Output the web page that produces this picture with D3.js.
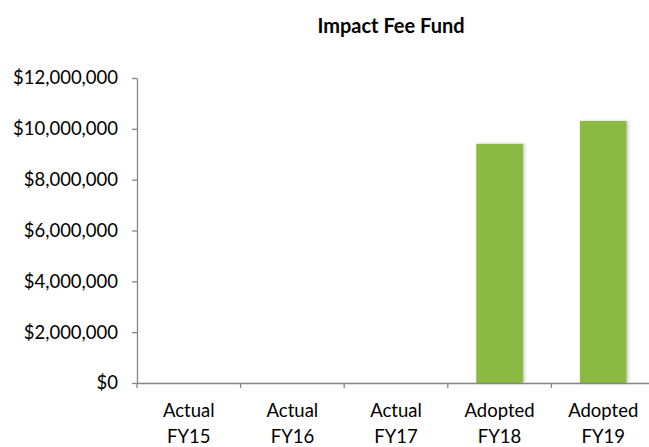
<!DOCTYPE html>
<html>
<head>
<meta charset="utf-8">
<script src="https://cdn.jsdelivr.net/npm/d3@7"></script>
<style>
body { margin: 0; background: #fff; }
svg { font-family: Lato, "Open Sans", sans-serif; }
</style>
</head>
<body>
<svg id="chart" width="649" height="447"></svg>
<script>
// data
var categories = ["Actual FY15", "Actual FY16", "Actual FY17", "Adopted FY18", "Adopted FY19"];
var values = [0, 0, 0, 9410000, 10310000];
var yTicks = [0, 2000000, 4000000, 6000000, 8000000, 10000000, 12000000];

var svg = d3.select("#chart");
var x = d3.scaleBand().domain(categories).range([137, 655]).paddingInner(0.55).paddingOuter(0.275);
var y = d3.scaleLinear().domain([0, 12000000]).range([383, 78]);

// title
svg.append("text")
  .attr("x", 391).attr("y", 33)
  .attr("text-anchor", "middle")
  .style("font-weight", "bold").style("font-size", "20px")
  .text("Impact Fee Fund");

// shadow filter for the bars
var defs = svg.append("defs");
var f = defs.append("filter").attr("id", "shadow").attr("x", "-20%").attr("y", "-5%").attr("width", "140%").attr("height", "110%");
f.append("feDropShadow").attr("dx", 1.5).attr("dy", 0).attr("stdDeviation", 1.5).attr("flood-color", "#000").attr("flood-opacity", 0.25);

var data = categories.map(function(c, i) { return {cat: c, val: values[i]}; });

svg.append("g").selectAll("rect")
  .data(data.filter(d => d.val > 0))
  .enter().append("rect")
  .attr("x", d => x(d.cat))
  .attr("width", x.bandwidth())
  .attr("y", d => y(d.val))
  .attr("height", d => y(0) - y(d.val))
  .attr("fill", "#8aba43")
  .attr("filter", "url(#shadow)");

// y axis
var fmt = d3.format("$,.0f");
var yAxis = svg.append("g").attr("transform", "translate(137,0)")
  .call(d3.axisLeft(y).tickValues(yTicks).tickFormat(fmt).tickSize(5).tickPadding(14).tickSizeOuter(0));
yAxis.selectAll("path, line").attr("stroke", "#868686").attr("stroke-width", 1.3);
yAxis.selectAll("text").style("font-size", "18.5px").attr("fill", "#000").style("font-family", "Lato, sans-serif");

// x axis
var xAxis = svg.append("g").attr("transform", "translate(0,383)")
  .call(d3.axisBottom(x).tickSize(0).tickFormat(""));
xAxis.select("path").attr("stroke", "#868686").attr("stroke-width", 1.3);
// boundary ticks between categories
var step = x.step();
var bounds = d3.range(categories.length + 1).map(i => 137 + i * step);
xAxis.selectAll(".bnd").data(bounds).enter().append("line")
  .attr("class", "bnd")
  .attr("x1", d => d).attr("x2", d => d)
  .attr("y1", 0).attr("y2", 5)
  .attr("stroke", "#868686").attr("stroke-width", 1.3);

// category labels on two lines
var labels = svg.append("g").selectAll("text")
  .data(categories).enter().append("text")
  .attr("text-anchor", "middle")
  .attr("transform", d => "translate(" + (x(d) + x.bandwidth() / 2) + ",0)")
  .style("font-size", "18.5px");
labels.each(function(d) {
  var parts = d.split(" ");
  var t = d3.select(this);
  t.append("tspan").attr("x", 0).attr("y", 417).text(parts[0]);
  t.append("tspan").attr("x", 0).attr("y", 443).text(parts[1]);
});
</script>
</body>
</html>
